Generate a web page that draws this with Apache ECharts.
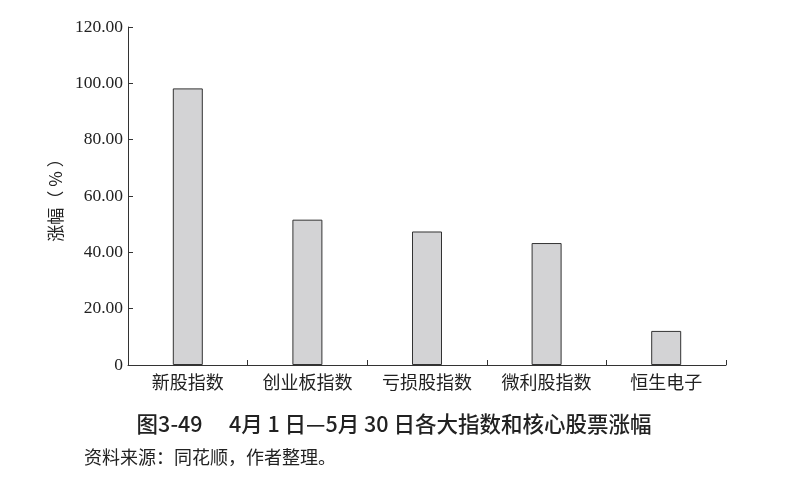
<!DOCTYPE html>
<html><head><meta charset="utf-8">
<script src="https://cdn.jsdelivr.net/npm/echarts@6/dist/echarts.min.js"></script>
<style>html,body{margin:0;padding:0;background:#fff}#c{width:799px;height:482px}</style>
</head><body><div id="c"></div>
<script>
var categories = ['新股指数', '创业板指数', '亏损股指数', '微利股指数', '恒生电子'];
var gains = [98.2, 51.6, 47.4, 43.3, 12.1];
var yTicks = [0, 20, 40, 60, 80, 100, 120];
var titleText = '图3-49\u3000 4月 1 日—5月 30 日各大指数和核心股票涨幅';
var sourceText = '资料来源：同花顺，作者整理。';
var yName = '涨幅（ % ）';

var chart = echarts.init(document.getElementById('c'));
chart.setOption({
  animation: false,
  backgroundColor: '#fff',
  grid: { left: 128, right: 73, top: 27, bottom: 117 },
  title: [
    { text: titleText, left: 389, textAlign: 'center', top: 408,
      textStyle: { fontFamily: 'Noto Sans CJK SC', fontSize: 21.5, fontWeight: 500, color: '#222' } },
    { text: sourceText, left: 79, top: 443,
      textStyle: { fontFamily: 'Noto Sans CJK SC', fontSize: 18, fontWeight: 'normal', color: '#222' } }
  ],
  xAxis: {
    type: 'category', data: categories,
    axisLine: { lineStyle: { color: '#333', width: 1 } },
    axisTick: { show: true, inside: true, length: 5, alignWithLabel: false, lineStyle: { color: '#333' } },
    axisLabel: { fontFamily: 'Noto Sans CJK SC', fontSize: 18, color: '#222', margin: 8 }
  },
  yAxis: {
    type: 'value', min: yTicks[0], max: yTicks[yTicks.length - 1], interval: 20,
    name: yName, nameLocation: 'middle', nameGap: 62, nameRotate: 90,
    nameTextStyle: { fontFamily: 'Noto Sans CJK SC', fontSize: 17, color: '#222' },
    axisLine: { show: true, lineStyle: { color: '#333', width: 1 } },
    axisTick: { show: true, inside: true, length: 5, lineStyle: { color: '#333' } },
    splitLine: { show: false },
    axisLabel: {
      fontFamily: 'Liberation Serif', fontSize: 17.5, color: '#222', margin: 5,
      formatter: function (v) { return v === 0 ? '0' : v.toFixed(2); }
    }
  },
  series: [{
    type: 'bar', data: gains, barWidth: 30,
    itemStyle: { color: '#d3d3d5', borderColor: '#333', borderWidth: 1 }
  }]
});
</script></body></html>
